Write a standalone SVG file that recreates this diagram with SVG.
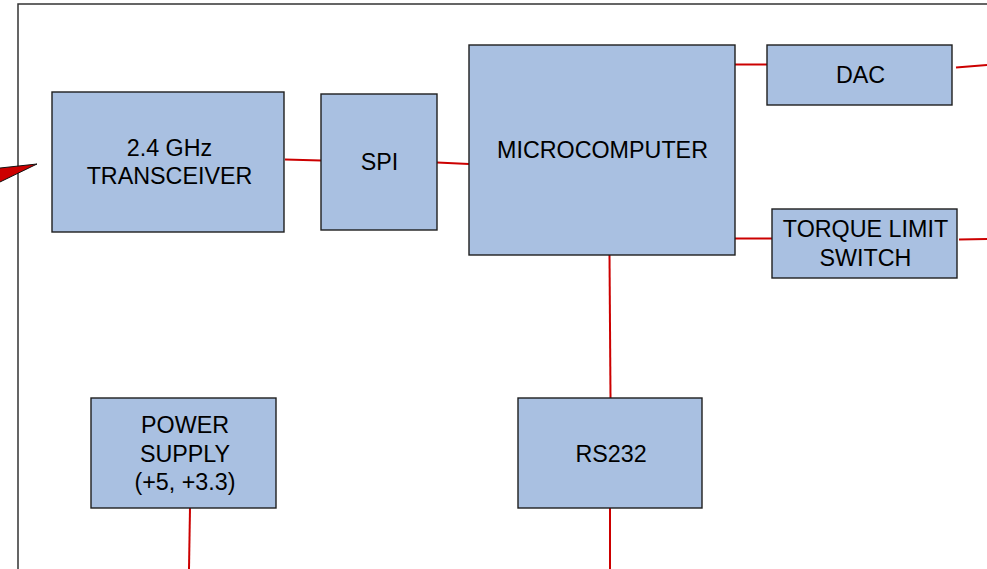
<svg xmlns="http://www.w3.org/2000/svg" width="987" height="569" viewBox="0 0 987 569">
<style>
.box{fill:#a9c0e1;stroke:#1e1e1e;stroke-width:1.4}
.lbl{font-family:"Liberation Sans",Arial,sans-serif;font-size:23.3px;fill:#000;text-anchor:middle}
.wire{stroke:#cc0000;stroke-width:2;fill:none}
</style>
<rect width="987" height="569" fill="#fff"/>
<path d="M18,569 V4 H987" fill="none" stroke="#333" stroke-width="1.5"/>
<polygon points="-20,170.2 37,164 -20,191.7" fill="#cc0000" stroke="#111" stroke-width="1"/>
<g id="connectors">
<line class="wire" x1="285" y1="159.5" x2="321" y2="160.5"/>
<line class="wire" x1="437" y1="162.5" x2="469" y2="164"/>
<line class="wire" x1="735" y1="64.5" x2="767" y2="64.5"/>
<line class="wire" x1="956" y1="67.5" x2="987" y2="65"/>
<line class="wire" x1="735" y1="238.5" x2="772" y2="238.5"/>
<line class="wire" x1="959" y1="239.5" x2="987" y2="239"/>
<line class="wire" x1="609.5" y1="255" x2="610.5" y2="398"/>
<line class="wire" x1="610" y1="508" x2="610" y2="569"/>
<line class="wire" x1="190" y1="508" x2="189" y2="569"/>
</g>
<g id="transceiver">
<rect class="box" x="52" y="92" width="232" height="140"/>
<text class="lbl" x="169.5" y="156">2.4 GHz</text>
<text class="lbl" x="169.5" y="184">TRANSCEIVER</text>
</g>
<g id="spi">
<rect class="box" x="321" y="94" width="116" height="136"/>
<text class="lbl" x="379.5" y="170">SPI</text>
</g>
<g id="microcomputer">
<rect class="box" x="469" y="45" width="266" height="210"/>
<text class="lbl" x="602.5" y="158">MICROCOMPUTER</text>
</g>
<g id="dac">
<rect class="box" x="767" y="45" width="185" height="60"/>
<text class="lbl" x="860.5" y="82.5">DAC</text>
</g>
<g id="torque">
<rect class="box" x="772" y="209" width="185" height="69"/>
<text class="lbl" x="865.5" y="237">TORQUE LIMIT</text>
<text class="lbl" x="865.5" y="266">SWITCH</text>
</g>
<g id="rs232">
<rect class="box" x="518" y="398" width="184" height="110"/>
<text class="lbl" x="611" y="462">RS232</text>
</g>
<g id="power">
<rect class="box" x="91" y="398" width="185" height="110"/>
<text class="lbl" x="185" y="433">POWER</text>
<text class="lbl" x="185" y="461.5">SUPPLY</text>
<text class="lbl" x="185" y="490">(+5, +3.3)</text>
</g>
</svg>
